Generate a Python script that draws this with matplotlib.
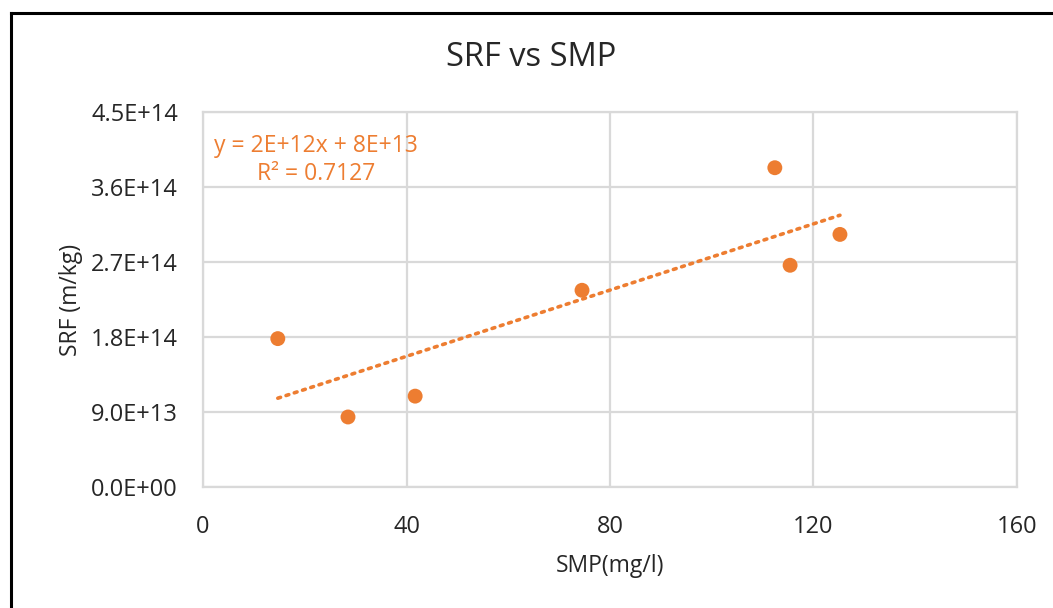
import numpy as np
import matplotlib.pyplot as plt
from matplotlib.lines import Line2D

# SMP (mg/l) vs SRF (m/kg)
smp = [14.7, 28.5, 41.7, 74.5, 112.4, 115.4, 125.2]
srf = [1.78e14, 0.84e14, 1.09e14, 2.36e14, 3.83e14, 2.66e14, 3.03e14]
x_ticks = [0, 40, 80, 120, 160]
y_ticks = [0, 0.9e14, 1.8e14, 2.7e14, 3.6e14, 4.5e14]
y_tick_labels = ['0.0E+00', '9.0E+13', '1.8E+14', '2.7E+14', '3.6E+14', '4.5E+14']
eq_text = 'y = 2E+12x + 8E+13\nR² = 0.7127'

orange = '#ED7D31'
grid = '#D9D9D9'
txt = '#262626'

plt.rcParams['font.family'] = ['Open Sans', 'DejaVu Sans']

fig = plt.figure(figsize=(10.53, 6.08), dpi=100)
ax = fig.add_axes([0.1928, 0.199, 0.773, 0.617])

# linear trendline over the data range
k, b = np.polyfit(smp, srf, 1)
xs = np.array([min(smp), max(smp)])
ax.plot(xs, k * xs + b, color=orange, lw=2.6, linestyle=(0, (0.8, 1.6)),
        dash_capstyle='round', zorder=3)
ax.scatter(smp, srf, s=115, color=orange, edgecolor='none', zorder=4)

ax.set_xlim(0, 160)
ax.set_ylim(0, 4.5e14)
ax.set_xticks(x_ticks)
ax.set_yticks(y_ticks)
ax.set_yticklabels(y_tick_labels)
ax.tick_params(length=0, labelsize=17, colors=txt)
ax.tick_params(axis='y', pad=18)
ax.tick_params(axis='x', pad=20)
ax.grid(True, color=grid, lw=1.6)
ax.set_axisbelow(True)
for s in ax.spines.values():
    s.set_color(grid)
    s.set_linewidth(1.6)

ax.set_xlabel('SMP(mg/l)', fontsize=16.5, color=txt, labelpad=11)
ax.set_ylabel('SRF (m/kg)', fontsize=16.5, color=txt, labelpad=6)
fig.text(0.504, 0.905, 'SRF vs SMP', fontsize=23.5, color=txt, ha='center', va='center')

ax.text(0.139, 0.94, eq_text, transform=ax.transAxes, fontsize=16.5,
        color=orange, va='top', ha='center', multialignment='center', linespacing=1.2)

# outer frame (only left and top visible in the original crop)
fig.add_artist(Line2D([0.0105, 0.0105], [0, 0.979], color='black', lw=2.2, transform=fig.transFigure))
fig.add_artist(Line2D([0.0105, 1.0], [0.979, 0.979], color='black', lw=2.2, transform=fig.transFigure))

fig.savefig('out.png', dpi=100)
